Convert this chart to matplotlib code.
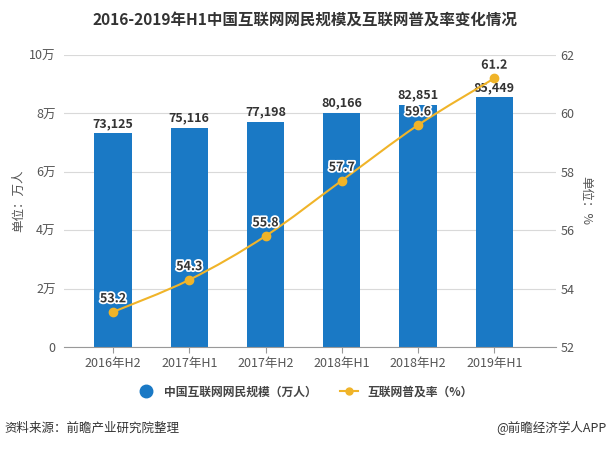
import matplotlib
matplotlib.use("Agg")
import matplotlib.pyplot as plt
import matplotlib.patheffects as pe
from matplotlib.lines import Line2D
from matplotlib.path import Path
from matplotlib.patches import PathPatch

plt.rcParams['font.family'] = ['Noto Sans CJK SC', 'DejaVu Sans']

categories = ["2016年H2", "2017年H1", "2017年H2", "2018年H1", "2018年H2", "2019年H1"]
users = [73125, 75116, 77198, 80166, 82851, 85449]
rate = [53.2, 54.3, 55.8, 57.7, 59.6, 61.2]
left_ticks = [0, 20000, 40000, 60000, 80000, 100000]
left_labels = ["0", "2万", "4万", "6万", "8万", "10万"]
right_ticks = [52, 54, 56, 58, 60, 62]

bar_color = "#1a79c5"
line_color = "#f0b429"
grid_color = "#d9d9d9"
text_color = "#555555"

fig = plt.figure(figsize=(6.10, 4.49), dpi=100)
ax = fig.add_axes([64/610, 1-347/449, (556-64)/610, (347-55)/449])
x = list(range(len(categories)))
ax.bar(x, users, width=0.49, color=bar_color, zorder=2)
ax.set_ylim(0, 100000)
ax.set_xlim(-0.643, 5.81)
ax.set_yticks(left_ticks)
ax.set_yticklabels(left_labels)
ax.set_xticks(x)
ax.set_xticklabels(categories)
ax.grid(axis='y', color=grid_color, linewidth=0.8, zorder=0)
for s in ['top', 'right', 'left']:
    ax.spines[s].set_visible(False)
ax.spines['bottom'].set_color("#999999")
ax.tick_params(axis='y', length=0, labelsize=9, colors=text_color, pad=6)
ax.tick_params(axis='x', length=4, color="#999999", labelsize=9, colors=text_color)
ax.set_ylabel("单位：万人", fontsize=9, color=text_color)
ax.yaxis.set_label_coords(-0.078, 0.5)

for xi, v in zip(x, users):
    ax.text(xi, v + 3400, f"{v:,}", ha='center', va='center', fontsize=9,
            fontweight='bold', color="#333333", zorder=4)

ax2 = ax.twinx()
# smooth curve through the data points (Catmull-Rom -> cubic Bezier)
pts = list(zip(x, rate))
verts = [pts[0]]
codes = [Path.MOVETO]
n = len(pts)
for i in range(n - 1):
    p0 = pts[i - 1] if i > 0 else pts[i]
    p1 = pts[i]
    p2 = pts[i + 1]
    p3 = pts[i + 2] if i + 2 < n else pts[i + 1]
    c1 = (p1[0] + (p2[0] - p0[0]) / 6, p1[1] + (p2[1] - p0[1]) / 6)
    c2 = (p2[0] - (p3[0] - p1[0]) / 6, p2[1] - (p3[1] - p1[1]) / 6)
    verts += [c1, c2, p2]
    codes += [Path.CURVE4] * 3
ax2.add_patch(PathPatch(Path(verts, codes), facecolor='none', edgecolor=line_color,
                        linewidth=1.5, zorder=3))
ax2.plot(x, rate, linestyle='none', marker='o', markersize=6, color=line_color, zorder=4)
ax2.set_ylim(52, 62)
ax2.set_yticks(right_ticks)
for s in ['top', 'right', 'left', 'bottom']:
    ax2.spines[s].set_visible(False)
ax2.tick_params(axis='y', length=0, labelsize=9, colors=text_color, pad=3)
ax2.set_ylabel("单位：%", fontsize=9, color=text_color, rotation=270)
ax2.yaxis.set_label_coords(1.073, 0.5)
for xi, v in zip(x, rate):
    ax2.text(xi, v + 0.45, f"{v}", ha='center', va='center', fontsize=9,
             fontweight='bold', color="#333333", zorder=5,
             path_effects=[pe.withStroke(linewidth=2.5, foreground='white')])

fig.suptitle("2016-2019年H1中国互联网网民规模及互联网普及率变化情况", x=0.5, y=0.975,
             fontsize=11.2, fontweight='bold', color="#333333")

handles = [
    Line2D([0], [0], marker='o', color='none', markerfacecolor=bar_color,
           markeredgecolor=bar_color, markersize=9),
    Line2D([0], [0], marker='o', color=line_color, markerfacecolor=line_color,
           markersize=5, linewidth=1.5),
]
fig.legend(handles, ["中国互联网网民规模（万人）", "互联网普及率（%）"],
           loc='center', bbox_to_anchor=(0.5, 1-392/449), ncol=2, frameon=False,
           prop={'size': 8.5, 'weight': 'bold'}, labelcolor="#444444",
           handlelength=1.5, columnspacing=2.0)

fig.text(0.008, 1-428/449, "资料来源：前瞻产业研究院整理", fontsize=9, color="#333333", va='center')
fig.text(0.995, 1-428/449, "@前瞻经济学人APP", fontsize=9, color="#333333", va='center', ha='right')

fig.savefig("out.png", dpi=100)
